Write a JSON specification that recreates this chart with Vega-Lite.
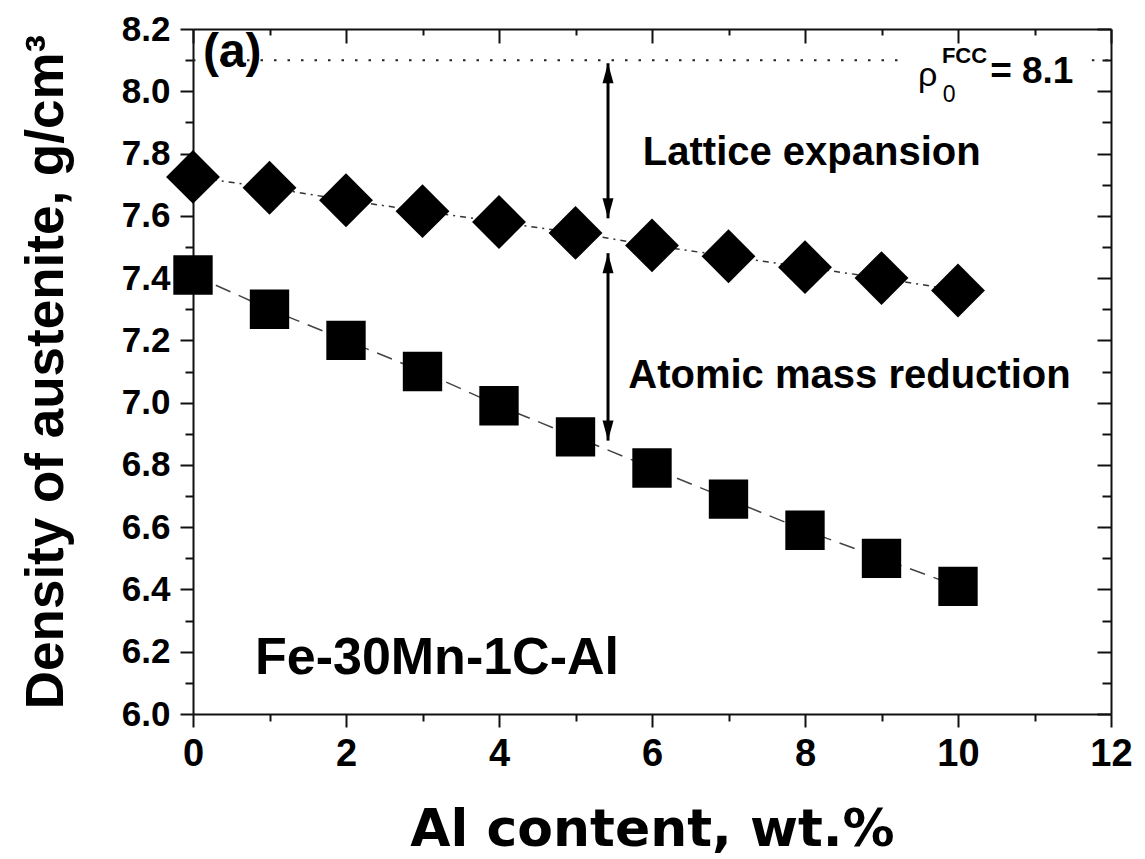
{
  "$schema": "https://vega.github.io/schema/vega-lite/v6.json",
  "width": 918,
  "height": 685,
  "autosize": {"type": "none"},
  "padding": {"left": 193, "top": 29, "right": 34, "bottom": 145},
  "background": "white",
  "config": {
    "view": {"stroke": null},
    "axis": {
      "grid": false,
      "domainColor": "#111",
      "tickColor": "#111",
      "domainWidth": 2,
      "tickWidth": 2,
      "labelColor": "#000",
      "titleColor": "#000",
      "labelFont": "Liberation Sans",
      "labelFontWeight": "bold",
      "labelFontSize": 35,
      "labelFlush": false,
      "labelOverlap": false
    }
  },
  "datasets": {
    "series": [
      {"al": 0, "lattice": 7.725, "atomic": 7.41},
      {"al": 1, "lattice": 7.69, "atomic": 7.30},
      {"al": 2, "lattice": 7.65, "atomic": 7.20},
      {"al": 3, "lattice": 7.615, "atomic": 7.10},
      {"al": 4, "lattice": 7.58, "atomic": 6.99},
      {"al": 5, "lattice": 7.545, "atomic": 6.89},
      {"al": 6, "lattice": 7.505, "atomic": 6.79},
      {"al": 7, "lattice": 7.47, "atomic": 6.69},
      {"al": 8, "lattice": 7.435, "atomic": 6.59},
      {"al": 9, "lattice": 7.40, "atomic": 6.50},
      {"al": 10, "lattice": 7.36, "atomic": 6.41}
    ],
    "arrows": [
      {"xa": 5.425, "top": 8.09, "bottom": 7.592},
      {"xa": 5.425, "top": 7.48, "bottom": 6.878}
    ]
  },
  "resolve": {"axis": {"x": "independent", "y": "independent"}},
  "layer": [
    {
      "data": {"values": [{"from": 0, "to": 9.3, "rho0": 8.1}, {"from": 11.75, "to": 12, "rho0": 8.1}]},
      "mark": {"type": "rule", "strokeDash": [2.5, 11], "strokeWidth": 2, "color": "#222"},
      "encoding": {
        "x": {"field": "from", "type": "quantitative",
          "scale": {"domain": [0, 12], "nice": false, "zero": false},
          "axis": {"orient": "bottom", "values": [0, 2, 4, 6, 8, 10, 12], "format": "d", "tickSize": 13, "labelPadding": 8, "labelFontSize": 38,
            "title": "Al content, wt.%", "titleFont": "DejaVu Sans", "titleFontWeight": "bold", "titleFontSize": 52, "titlePadding": 31, "domain": true}},
        "x2": {"field": "to"},
        "y": {"field": "rho0", "type": "quantitative",
          "scale": {"domain": [6, 8.2], "nice": false, "zero": false},
          "axis": {"orient": "left", "values": [6, 6.2, 6.4, 6.6, 6.8, 7, 7.2, 7.4, 7.6, 7.8, 8, 8.2], "format": ".1f", "tickSize": 13, "labelPadding": 10,
            "title": "Density of austenite, g/cm³", "titleFont": "Liberation Sans", "titleFontWeight": "bold", "titleFontSize": 53, "titlePadding": 48, "domain": true}}
      }
    },
    {
      "data": {"name": "series"},
      "mark": {"type": "line", "strokeDash": [6, 5, 2, 5], "strokeWidth": 1.5, "color": "#333"},
      "encoding": {
        "x": {"field": "al", "type": "quantitative",
          "axis": {"orient": "bottom", "values": [1, 3, 5, 7, 9, 11], "tickSize": 7, "labels": false, "domain": false, "title": null}},
        "y": {"field": "lattice", "type": "quantitative",
          "axis": {"orient": "left", "values": [6.1, 6.3, 6.5, 6.7, 6.9, 7.1, 7.3, 7.5, 7.7, 7.9, 8.1], "tickSize": 8, "labels": false, "domain": false, "title": null}}
      }
    },
    {
      "data": {"name": "series"},
      "mark": {"type": "line", "strokeDash": [16, 9], "strokeWidth": 1.5, "color": "#444"},
      "encoding": {
        "x": {"field": "al", "type": "quantitative",
          "axis": {"orient": "top", "values": [0, 2, 4, 6, 8, 10, 12], "tickSize": -14, "labels": false, "domain": true, "title": null}},
        "y": {"field": "atomic", "type": "quantitative",
          "axis": {"orient": "right", "values": [6, 6.2, 6.4, 6.6, 6.8, 7, 7.2, 7.4, 7.6, 7.8, 8, 8.2], "tickSize": -14, "labels": false, "domain": true, "title": null}}
      }
    },
    {
      "data": {"name": "series"},
      "mark": {"type": "point", "shape": "diamond", "filled": true, "size": 2900, "color": "#000", "opacity": 1},
      "encoding": {
        "x": {"field": "al", "type": "quantitative",
          "axis": {"orient": "top", "values": [1, 3, 5, 7, 9, 11], "tickSize": -6, "labels": false, "domain": false, "title": null}},
        "y": {"field": "lattice", "type": "quantitative",
          "axis": {"orient": "right", "values": [6.1, 6.3, 6.5, 6.7, 6.9, 7.1, 7.3, 7.5, 7.7, 7.9, 8.1], "tickSize": -9, "labels": false, "domain": false, "title": null}}
      }
    },
    {
      "data": {"name": "series"},
      "mark": {"type": "point", "shape": "square", "filled": true, "size": 1550, "color": "#000", "opacity": 1},
      "encoding": {
        "x": {"field": "al", "type": "quantitative", "axis": null},
        "y": {"field": "atomic", "type": "quantitative", "axis": null}
      }
    },
    {
      "data": {"name": "arrows"},
      "mark": {"type": "rule", "strokeWidth": 3, "color": "#000"},
      "encoding": {
        "x": {"field": "xa", "type": "quantitative", "axis": null},
        "y": {"field": "top", "type": "quantitative", "axis": null},
        "y2": {"field": "bottom"}
      }
    },
    {
      "data": {"name": "arrows"},
      "mark": {"type": "point", "shape": "M0,0L-0.55,2L0.55,2Z", "filled": true, "size": 400, "color": "#000", "opacity": 1},
      "encoding": {
        "x": {"field": "xa", "type": "quantitative", "axis": null},
        "y": {"field": "top", "type": "quantitative", "axis": null}
      }
    },
    {
      "data": {"name": "arrows"},
      "mark": {"type": "point", "shape": "M0,0L-0.55,-2L0.55,-2Z", "filled": true, "size": 400, "color": "#000", "opacity": 1},
      "encoding": {
        "x": {"field": "xa", "type": "quantitative", "axis": null},
        "y": {"field": "bottom", "type": "quantitative", "axis": null}
      }
    },
    {
      "data": {"values": [{"label": "(a)"}]},
      "mark": {"type": "text", "font": "Liberation Sans", "fontWeight": "bold", "fontSize": 48, "align": "left", "baseline": "alphabetic", "color": "#000"},
      "encoding": {
        "x": {"datum": 0.13, "type": "quantitative", "axis": null},
        "y": {"datum": 8.078, "type": "quantitative", "axis": null},
        "text": {"field": "label"}
      }
    },
    {
      "data": {"values": [{"label": "Lattice expansion"}]},
      "mark": {"type": "text", "font": "Liberation Sans", "fontWeight": "bold", "fontSize": 40, "align": "left", "baseline": "alphabetic", "color": "#000"},
      "encoding": {
        "x": {"datum": 5.88, "type": "quantitative", "axis": null},
        "y": {"datum": 7.763, "type": "quantitative", "axis": null},
        "text": {"field": "label"}
      }
    },
    {
      "data": {"values": [{"label": "Atomic mass reduction"}]},
      "mark": {"type": "text", "font": "Liberation Sans", "fontWeight": "bold", "fontSize": 40, "align": "left", "baseline": "alphabetic", "color": "#000"},
      "encoding": {
        "x": {"datum": 5.69, "type": "quantitative", "axis": null},
        "y": {"datum": 7.046, "type": "quantitative", "axis": null},
        "text": {"field": "label"}
      }
    },
    {
      "data": {"values": [{"label": "Fe-30Mn-1C-Al"}]},
      "mark": {"type": "text", "font": "Liberation Sans", "fontWeight": "bold", "fontSize": 52, "align": "left", "baseline": "alphabetic", "color": "#000"},
      "encoding": {
        "x": {"datum": 0.81, "type": "quantitative", "axis": null},
        "y": {"datum": 6.129, "type": "quantitative", "axis": null},
        "text": {"field": "label"}
      }
    },
    {
      "data": {"values": [{"label": "ρ"}]},
      "mark": {"type": "text", "font": "Liberation Sans", "fontWeight": "normal", "fontSize": 34, "align": "left", "baseline": "alphabetic", "color": "#000"},
      "encoding": {
        "x": {"datum": 9.477, "type": "quantitative", "axis": null},
        "y": {"datum": 8.017, "type": "quantitative", "axis": null},
        "text": {"field": "label"}
      }
    },
    {
      "data": {"values": [{"label": "0"}]},
      "mark": {"type": "text", "font": "Liberation Sans", "fontWeight": "normal", "fontSize": 23, "align": "left", "baseline": "alphabetic", "color": "#000"},
      "encoding": {
        "x": {"datum": 9.8, "type": "quantitative", "axis": null},
        "y": {"datum": 7.965, "type": "quantitative", "axis": null},
        "text": {"field": "label"}
      }
    },
    {
      "data": {"values": [{"label": "FCC"}]},
      "mark": {"type": "text", "font": "Liberation Sans", "fontWeight": "bold", "fontSize": 22, "align": "left", "baseline": "alphabetic", "color": "#000"},
      "encoding": {
        "x": {"datum": 9.79, "type": "quantitative", "axis": null},
        "y": {"datum": 8.091, "type": "quantitative", "axis": null},
        "text": {"field": "label"}
      }
    },
    {
      "data": {"values": [{"label": "= 8.1"}]},
      "mark": {"type": "text", "font": "Liberation Sans", "fontWeight": "bold", "fontSize": 37, "align": "left", "baseline": "alphabetic", "color": "#000"},
      "encoding": {
        "x": {"datum": 10.42, "type": "quantitative", "axis": null},
        "y": {"datum": 8.026, "type": "quantitative", "axis": null},
        "text": {"field": "label"}
      }
    }
  ]
}
